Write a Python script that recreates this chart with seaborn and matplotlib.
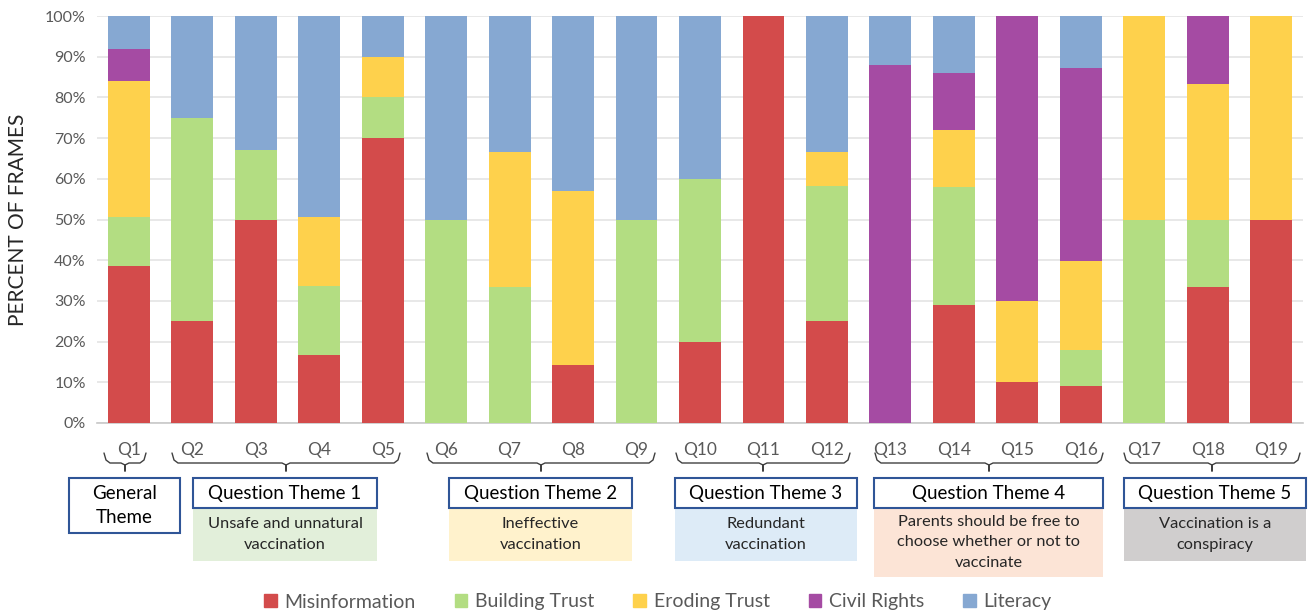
import numpy as np
import pandas as pd
import matplotlib.pyplot as plt
import matplotlib.patches as mpatches
from matplotlib.lines import Line2D
import seaborn as sns

# Data (percent of frames per question)
questions = ["Q%d" % i for i in range(1, 20)]
misinformation = [38.5, 25, 50, 16.7, 70, 0, 0, 14.3, 0, 20, 100, 25, 0, 29, 10, 9, 0, 33.3, 50]
building_trust = [12, 50, 17, 17, 10, 50, 33.3, 0, 50, 40, 0, 33.3, 0, 29, 0, 9, 50, 16.7, 0]
eroding_trust = [33.5, 0, 0, 16.8, 10, 0, 33.4, 42.8, 0, 0, 0, 8.4, 0, 14, 20, 21.7, 50, 33.3, 50]
civil_rights = [8, 0, 0, 0, 0, 0, 0, 0, 0, 0, 0, 0, 88, 14, 70, 47.5, 0, 16.7, 0]
literacy = [8, 25, 33, 49.5, 10, 50, 33.3, 42.9, 50, 40, 0, 33.3, 12, 14, 0, 12.8, 0, 0, 0]

categories = ["Misinformation", "Building Trust", "Eroding Trust", "Civil Rights", "Literacy"]
colors = ["#d34b4b", "#b3dd82", "#fed14c", "#a54ba3", "#86a8d2"]

themes = ["General\nTheme", "Question Theme 1", "Question Theme 2", "Question Theme 3",
          "Question Theme 4", "Question Theme 5"]
theme_desc = [None, "Unsafe and unnatural\nvaccination", "Ineffective\nvaccination",
              "Redundant\nvaccination", "Parents should be free to\nchoose whether or not to\nvaccinate",
              "Vaccination is a\nconspiracy"]
desc_colors = [None, "#e2efda", "#fff2cc", "#ddebf7", "#fce4d6", "#d0cece"]

df = pd.DataFrame({"question": questions, "Misinformation": misinformation,
                   "Building Trust": building_trust, "Eroding Trust": eroding_trust,
                   "Civil Rights": civil_rights, "Literacy": literacy})
cum = df[categories].cumsum(axis=1)

sns.set_style("white")
plt.rcParams["font.family"] = ["Lato", "DejaVu Sans"]

W, H = 1309, 614
fig = plt.figure(figsize=(W / 100, H / 100), dpi=100)
ax = fig.add_axes([97 / W, 1 - 423 / H, (1303 - 97) / W, (423 - 16) / H])

# draw tallest cumulative first, lower layers on top
for cat, col in reversed(list(zip(categories, colors))):
    sns.barplot(x=df["question"], y=cum[cat], color=col, width=0.66, ax=ax,
                saturation=1, linewidth=0, zorder=3)

ax.set_ylim(0, 100)
ax.set_yticks(np.arange(0, 101, 10))
ax.set_yticklabels(["%d%%" % v for v in range(0, 101, 10)])
ax.yaxis.grid(True, color="#e4e4e4", linewidth=1.2, zorder=0)
ax.set_axisbelow(True)
for s in ["top", "right", "left"]:
    ax.spines[s].set_visible(False)
ax.spines["bottom"].set_color("#c8c8c8")
ax.spines["bottom"].set_linewidth(1.2)
ax.tick_params(axis="y", length=0, labelsize=11.5, labelcolor="#595959", pad=8)
ax.tick_params(axis="x", length=0, labelsize=12.5, labelcolor="#595959", pad=14)
ax.set_xlabel("")
ax.set_ylabel("PERCENT OF FRAMES", fontsize=15, color="#262626", labelpad=12)


def fx(x):
    return x / W


def fy(y):
    return 1 - y / H


# braces under the tick labels
braces = [(104, 146), (172, 400), (427, 655), (676, 850), (875, 1103), (1124, 1300)]
for x0, x1 in braces:
    xm = (x0 + x1) / 2
    xs = [x0, x0 + 2, x0 + 6, xm - 4, xm, xm, xm, xm + 4, x1 - 6, x1 - 2, x1]
    ys = [453, 460, 463, 463, 465, 471, 465, 463, 463, 460, 453]
    fig.add_artist(Line2D([fx(v) for v in xs], [fy(v) for v in ys], color="#404040",
                          linewidth=1.0, transform=fig.transFigure))

# theme boxes
boxes = [(69, 180), (193, 377), (449, 632), (675, 857), (874, 1103), (1124, 1306)]
for (x0, x1), title, desc, dcol in zip(boxes, themes, theme_desc, desc_colors):
    if desc is None:
        y0, y1 = 478, 533
    else:
        y0, y1 = 478, 508
        nlines = desc.count("\n") + 1
        dy1 = 561 if nlines < 3 else 577
        fig.add_artist(mpatches.Rectangle((fx(x0), fy(dy1)), fx(x1 - x0), (dy1 - y1) / H,
                                          facecolor=dcol, edgecolor="none",
                                          transform=fig.transFigure))
        fig.text(fx((x0 + x1) / 2), fy((y1 + dy1) / 2), desc, ha="center", va="center",
                 fontsize=11.8, color="#262626", linespacing=1.55)
    fig.add_artist(mpatches.Rectangle((fx(x0), fy(y1)), fx(x1 - x0), (y1 - y0) / H,
                                      facecolor="white", edgecolor="#2f5597", linewidth=1.5,
                                      transform=fig.transFigure))
    fig.text(fx((x0 + x1) / 2), fy((y0 + y1) / 2), title, ha="center", va="center",
             fontsize=13.5, color="black", linespacing=1.5)

# legend
handles = [mpatches.Patch(color=c, label=l) for l, c in zip(categories, colors)]
fig.legend(handles=handles, loc="center", bbox_to_anchor=(fx(658), fy(602)), ncol=5,
           frameon=False, fontsize=14, labelcolor="#595959", handlelength=0.65,
           handleheight=0.65, handletextpad=0.4, columnspacing=2.0)

fig.savefig("out.png", dpi=100)
